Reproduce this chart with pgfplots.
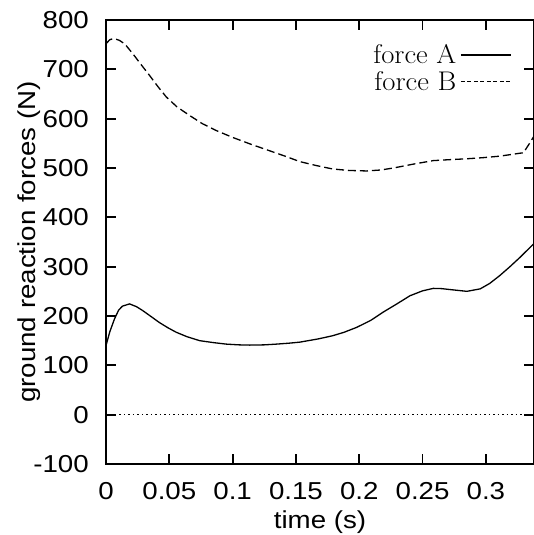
\documentclass[border=0pt]{standalone}
\usepackage{fontspec}
\setmainfont{Latin Modern Roman}[FakeStretch=1.06]
\setsansfont{Liberation Sans}[FakeStretch=1.13]
\usepackage{pgfplots}
\pgfplotsset{compat=1.18}

\newcommand\tickfont{\sffamily\fontsize{24.5bp}{29bp}\selectfont}
\newcommand\keyfont{\rmfamily\fontsize{27bp}{31bp}\selectfont}

\begin{document}
\begin{tikzpicture}
  \begin{axis}[
      scale only axis,
      width=428bp,
      height=444bp,
      xmin=0, xmax=0.338,
      ymin=-100, ymax=800,
      xtick={0,0.05,0.1,0.15,0.2,0.25,0.3},
      ytick={-100,0,100,200,300,400,500,600,700,800},
      scaled x ticks=false,
      minor tick num=0,
      tick align=inside,
      major tick length=10bp,
      axis line style={line width=1.8bp},
      every tick/.style={black, line width=1.8bp},
      tick label style={font=\tickfont, inner sep=0pt,
        /pgf/number format/assume math mode=true},
      xticklabel style={/pgf/number format/fixed,
        /pgf/number format/precision=2, anchor=north, yshift=-18bp},
      yticklabel style={anchor=east, xshift=-17bp},
      xlabel={time (s)},
      ylabel={ground reaction forces (N)},
      label style={font=\tickfont, inner sep=0pt},
      xlabel style={at={(axis description cs:0.5,-0.130)}, anchor=center},
      ylabel style={at={(axis description cs:-0.180,0.5)}, anchor=center, rotate=0},
      legend plot pos=right,
      legend cell align=right,
      legend style={draw=none, fill=none, inner sep=0pt,
        at={(axis description cs:0.948,0.945)}, anchor=north east,
        font=\keyfont, column sep=4bp, row sep=6bp,
        nodes={inner sep=0pt}},
      legend image code/.code={\draw[#1] (0bp,0bp) -- (50bp,0bp);},
    ]

    % force A
    \addplot[black, line width=1.3bp] coordinates {
      (0,140) (0.003,168) (0.0067,194) (0.010,212) (0.013,220)
      (0.0186,224.5) (0.024,219) (0.029,211) (0.035,200) (0.042,187)
      (0.049,176) (0.0555,167) (0.064,158) (0.074,150) (0.085,146)
      (0.095,143) (0.105,141.5) (0.1135,141) (0.125,141.5) (0.1346,143)
      (0.145,145) (0.153,147) (0.1675,153.5) (0.179,160) (0.188,167)
      (0.198,177) (0.209,191) (0.219,208) (0.230,225) (0.240,241)
      (0.250,251) (0.2585,256) (0.265,255.5) (0.272,253.5) (0.285,250)
      (0.2955,255) (0.303,266) (0.311,282) (0.319,300) (0.327,319)
      (0.3376,346)
    };
    \addlegendentry{force A}

    % force B
    \addplot[black, line width=1.3bp, dash pattern=on 8bp off 4bp,
      legend image post style={dash pattern=on 4bp off 2.5bp}] coordinates {
      (0,752) (0.003,760) (0.0054,762) (0.008,761) (0.0107,758.6)
      (0.015,751) (0.0212,731.6) (0.027,712) (0.0344,687.6) (0.041,665)
      (0.0476,644) (0.056,624) (0.066,606.5) (0.076,590) (0.087,576)
      (0.100,562) (0.1135,549) (0.128,536) (0.1425,523) (0.153,513)
      (0.166,505) (0.179,498) (0.192,495) (0.206,494) (0.217,496)
      (0.227,500) (0.243,508) (0.2585,515) (0.272,517) (0.285,518.7)
      (0.298,521) (0.311,524) (0.3297,531) (0.335,552) (0.3376,563)
    };
    \addlegendentry{force B}

    % zero line
    \addplot[black, line width=1bp, dash pattern=on 1.5bp off 3bp, forget plot]
      coordinates {(0,0) (0.338,0)};

  \end{axis}
  \pgfresetboundingbox
  \path[use as bounding box] (-106bp,-71bp) rectangle (428bp,464bp);
\end{tikzpicture}
\end{document}
